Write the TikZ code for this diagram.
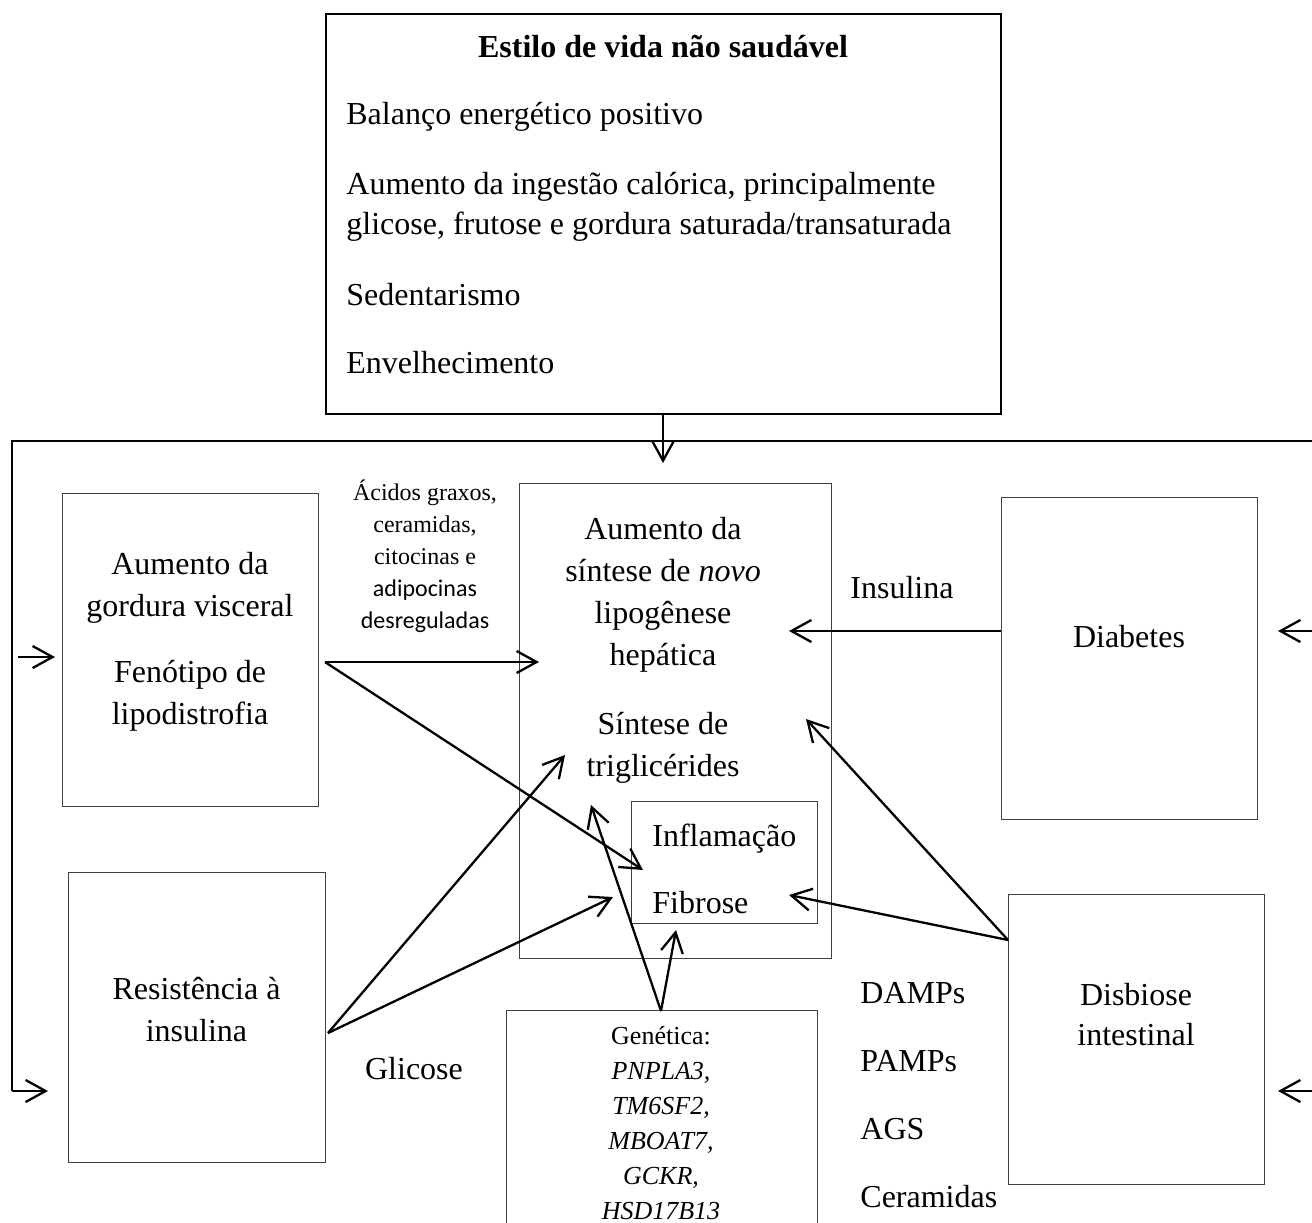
\documentclass[tikz,border=0pt]{standalone}
\usepackage{fontspec}
\setmainfont{Liberation Serif}
\newfontfamily\calibrifont{Carlito}
\usetikzlibrary{arrows.meta}

\begin{document}
\begin{tikzpicture}[
    x=0.5pt, y=-0.5pt,
    box/.style={rectangle, draw=black!75, line width=0.5pt, inner sep=0pt, outer sep=0pt},
    txt/.style={inner sep=0pt, align=center, font=\fontsize{16}{21}\selectfont},
    small/.style={inner sep=0pt, align=center, font=\fontsize{12}{16}\selectfont},
    arrow/.style={-{Straight Barb[length=10pt, width=11pt]}, line width=1.15pt},
    frame/.style={line width=0.8pt}
]
\clip (0,0) rectangle (1312,1222);

% Lifestyle box
\node[box, draw=black, line width=0.7pt, minimum width=337.5pt, minimum height=200pt] (life) at (663.5,214) {};
\node[txt, font=\fontsize{16}{21}\selectfont\bfseries] (title) at (663,47) {Estilo de vida não saudável};
\node[txt, align=left, anchor=west, font=\fontsize{16}{20}\selectfont] (habits) at (346,238.5) {Balanço energético positivo\\[15pt]Aumento da ingestão calórica, principalmente\\glicose, frutose e gordura saturada/transaturada\\[15.5pt]Sedentarismo\\[14pt]Envelhecimento};

% Boxes
\node[box, minimum width=128pt, minimum height=156.5pt] (gord) at (190,649.5) {};
\node[box, minimum width=128.5pt, minimum height=145pt] (resis) at (196.5,1017) {};
\node[box, minimum width=156pt, minimum height=237.5pt] (hep) at (675,720.5) {};
\node[box, minimum width=93pt, minimum height=61pt] (infl) at (724,862) {};
\node[box, minimum width=128pt, minimum height=161pt] (diab) at (1129,658) {};
\node[box, minimum width=128pt, minimum height=145pt] (disb) at (1136,1039) {};
\node[box, minimum width=155.5pt, minimum height=125pt] (gen) at (661.5,1135) {};

% Box texts
\node[txt] (gordtxt) at (190,641.5) {Aumento da\\gordura visceral\\[12pt]Fenótipo de\\lipodistrofia};
\node[txt] (resistxt) at (196.5,1010) {Resistência à\\insulina};
\node[txt] (heptxt) at (663,650) {Aumento da\\síntese de \textit{novo}\\lipogênese\\hepática\\[13.5pt]Síntese de\\triglicérides};
\node[txt, align=left, anchor=west] (infltxt) at (652,868.5) {Inflamação\\[12.5pt]Fibrose};
\node[txt] (diabtxt) at (1129,637) {Diabetes};
\node[txt, font=\fontsize{16}{20}\selectfont] (disbtxt) at (1136,1014.5) {Disbiose\\intestinal};
\node[txt, font=\fontsize{13}{17.5}\selectfont] (gentxt) at (661,1123.5) {Genética:\\\textit{PNPLA3,}\\\textit{TM6SF2,}\\\textit{MBOAT7,}\\\textit{GCKR,}\\\textit{HSD17B13}};

% Labels
\node[small] (fatty) at (425,556) {Ácidos graxos,\\ceramidas,\\citocinas e\\{\calibrifont adipocinas}\\{\calibrifont desreguladas}};
\node[txt] (insul) at (902,587.5) {Insulina};
\node[txt] (glic) at (414,1069) {Glicose};
\node[txt, align=left, anchor=west, font=\fontsize{16}{34}\selectfont] (damps) at (860,1095) {DAMPs\\PAMPs\\AGS\\Ceramidas};

% Points
\coordinate (topL) at (12,441);
\coordinate (topR) at (1330,441);
\coordinate (botL) at (12,1091);
\coordinate (botR) at (1330,1091);
\coordinate (midR) at (1330,631);
\coordinate (resisIn) at (48,1091);
\coordinate (gordFrom) at (18,657);
\coordinate (gordIn) at (55,657);
\coordinate (diabIn) at (1278,631);
\coordinate (disbIn) at (1278,1091);
\coordinate (hepTop) at (663,463);
\coordinate (gordOut) at (325,662);
\coordinate (resisOut) at (328,1033);
\coordinate (diabOut) at (1001,631);
\coordinate (disbOut) at (1008,940);
\coordinate (genOut) at (661,1011);
\coordinate (hepL) at (539,662);
\coordinate (hepLo) at (565,755);
\coordinate (hepR) at (789,631);
\coordinate (hepRlo) at (806,719);
\coordinate (hepTri) at (591,805);
\coordinate (inflL) at (643,870);
\coordinate (fibL) at (613,897);
\coordinate (fibR) at (789,895);
\coordinate (fibB) at (676,930);

% Frame
\draw[frame] (botR) -- (topR) -- (topL) -- (botL);
\draw[arrow] (botL) -- (resisIn);
\draw[arrow] (gordFrom) -- (gordIn);
\draw[arrow] (midR) -- (diabIn);
\draw[arrow] (botR) -- (disbIn);
\draw[arrow] (life.south -| hepTop) -- (hepTop);

% Arrows
\draw[arrow] (gordOut) -- (hepL);
\draw[arrow] (gordOut) -- (inflL);
\draw[arrow] (resisOut) -- (hepLo);
\draw[arrow] (resisOut) -- (fibL);
\draw[arrow] (diabOut) -- (hepR);
\draw[arrow] (disbOut) -- (hepRlo);
\draw[arrow] (disbOut) -- (fibR);
\draw[arrow] (genOut) -- (hepTri);
\draw[arrow] (genOut) -- (fibB);
\end{tikzpicture}
\end{document}
